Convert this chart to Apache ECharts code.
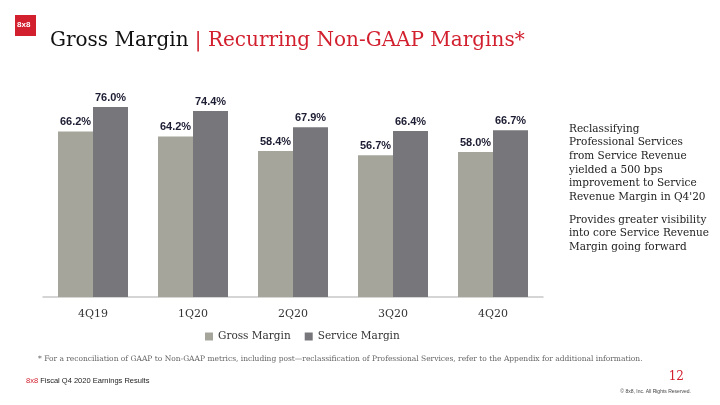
<!DOCTYPE html>
<html><head><meta charset="utf-8">
<script src="https://cdn.jsdelivr.net/npm/echarts@6/dist/echarts.min.js"></script>
<style>html,body{margin:0;padding:0;background:#fff}#c{width:720px;height:405px}</style>
</head><body><div id="c"></div>
<script>
const categories = ['4Q19','1Q20','2Q20','3Q20','4Q20'];
const grossMargin = [66.2, 64.2, 58.4, 56.7, 58.0];
const serviceMargin = [76.0, 74.4, 67.9, 66.4, 66.7];
const seriesNames = ['Gross Margin','Service Margin'];
const sideNote1 = ['Reclassifying','Professional Services','from Service Revenue','yielded a 500 bps','improvement to Service','Revenue Margin in Q4\'20'];
const sideNote2 = ['Provides greater visibility','into core Service Revenue','Margin going forward'];

const serif = '"DejaVu Serif", "Liberation Serif", serif';
const chart = echarts.init(document.getElementById('c'));
const labelStyle = {show:true, position:'top', distance:4, formatter: p => p.value.toFixed(1)+'%', color:'#1d1d33', fontWeight:'bold', fontSize:11, fontFamily:'"Liberation Sans", Arial, sans-serif'};
chart.setOption({
  animation:false,
  backgroundColor:'#fff',
  grid:{left:43, right:177, top:97, bottom:108},
  xAxis:{type:'category', data:categories,
    axisLine:{lineStyle:{color:'#c8c8c8', width:1.5}}, axisTick:{show:false},
    axisLabel:{color:'#333', fontSize:11, fontFamily:serif, margin:12}},
  yAxis:{type:'value', min:0, max:80, show:false, splitLine:{show:false}},
  legend:{data:seriesNames, left:200, top:326, itemWidth:8, itemHeight:8, itemGap:14, itemTextGap:4, icon:'rect',
    textStyle:{color:'#333', fontSize:10.5, fontFamily:serif}},
  series:[
    {name:seriesNames[0], type:'bar', data:grossMargin, barGap:'0%', barCategoryGap:'30%', itemStyle:{color:'#a5a59c'}, label:labelStyle},
    {name:seriesNames[1], type:'bar', data:serviceMargin, itemStyle:{color:'#77777b'}, label:labelStyle}
  ],
  graphic:[
    {type:'rect', left:15, top:15, shape:{width:21, height:21}, style:{fill:'#d2202f'}},
    {type:'text', left:17, top:21, style:{text:'8x8', fill:'#fff', font:'bold 8px "Liberation Sans", Arial, sans-serif'}},
    {type:'text', left:50, top:31, style:{rich:{a:{fill:'#111', fontSize:20, fontFamily:serif}, b:{fill:'#d2202f', fontSize:20, fontFamily:serif}}, text:'{a|Gross Margin }{b|| Recurring Non-GAAP Margins*}'}},
    {type:'text', left:569, top:122, style:{text:sideNote1.join('\n'), fill:'#222', font:'10.5px '+serif, lineHeight:13.7}},
    {type:'text', left:569, top:213, style:{text:sideNote2.join('\n'), fill:'#222', font:'10.5px '+serif, lineHeight:13.7}},
    {type:'text', left:38, top:355, style:{text:'* For a reconciliation of GAAP to Non-GAAP metrics, including post\u2014reclassification of Professional Services, refer to the Appendix for additional information.', fill:'#666', font:'7.5px '+serif}},
    {type:'text', left:26, top:377, style:{rich:{r:{fill:'#d2202f', fontSize:7.5, fontFamily:'"Liberation Sans", Arial, sans-serif'}, k:{fill:'#222', fontSize:7.5, fontFamily:'"Liberation Sans", Arial, sans-serif'}}, text:'{r|8x8}{k| Fiscal Q4 2020 Earnings Results}'}},
    {type:'text', right:36, top:371, style:{text:'12', fill:'#d2202f', font:'12px '+serif}},
    {type:'text', right:29, top:389, style:{text:'\u00a9 8x8, Inc. All Rights Reserved.', fill:'#444', font:'5px "Liberation Sans", Arial, sans-serif'}}
  ]
});
</script></body></html>
